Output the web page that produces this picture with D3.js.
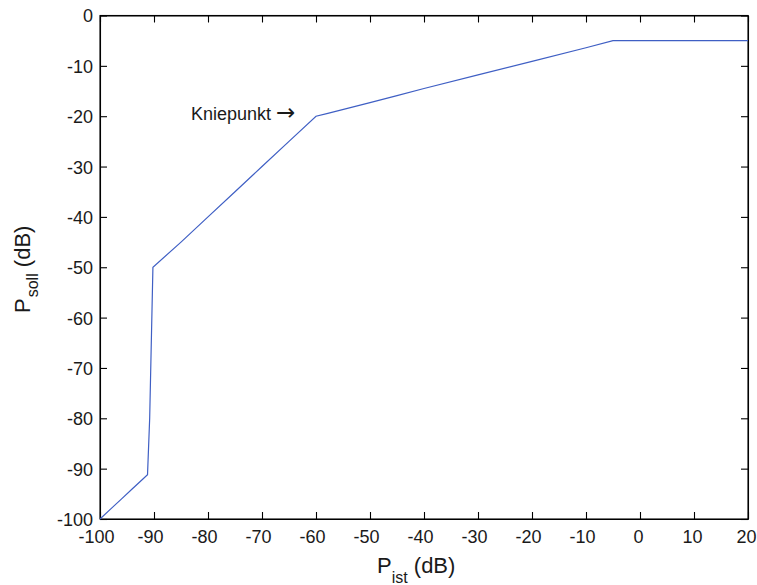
<!DOCTYPE html>
<html>
<head>
<meta charset="utf-8">
<script src="https://cdn.jsdelivr.net/npm/d3@7"></script>
<style>
  html, body { margin: 0; padding: 0; background: #fff; }
  svg { display: block; font-family: "Liberation Sans", Arial, sans-serif; }
</style>
</head>
<body>
<svg id="chart" width="757" height="585"></svg>
<script>
// Data
const pIst  = [-100, -98, -96, -94, -92, -91.2, -90.8, -90.2, -85, -80, -75, -70, -65, -60, -58, -50, -45, -40, -30, -20, -10, -5, 0, 10, 20];
const pSoll = [-100, -98, -96, -94, -92, -91.2, -80,   -50,   -45, -40, -35, -30, -25, -20, -19.5, -17.3, -15.9, -14.5, -11.8, -9.1, -6.4, -5, -5, -5, -5];
const xTicks = [-100, -90, -80, -70, -60, -50, -40, -30, -20, -10, 0, 10, 20];
const yTicks = [0, -10, -20, -30, -40, -50, -60, -70, -80, -90, -100];
const annotationText = "Kniepunkt";
const annotationArrow = "\u2192";

const svg = d3.select("#chart");
const mLeft = 100, mRight = 748, mTop = 15.5, mBottom = 519;
const FONT = "Liberation Sans, Arial, sans-serif";

const x = d3.scaleLinear().domain([-100, 20]).range([mLeft, mRight]);
const y = d3.scaleLinear().domain([-100, 0]).range([mBottom, mTop]);

// Frame
svg.append("rect")
  .attr("x", mLeft).attr("y", mTop)
  .attr("width", mRight - mLeft).attr("height", mBottom - mTop)
  .attr("fill", "#fff").attr("stroke", "#000").attr("stroke-width", 1.1);

const tickLen = 7;
const fmt = d => String(d);
const gx = svg.append("g").attr("transform", `translate(0,${mBottom})`)
  .call(d3.axisBottom(x).tickValues(xTicks).tickSizeInner(-tickLen).tickSizeOuter(0).tickFormat(fmt));
const gxt = svg.append("g").attr("transform", `translate(0,${mTop})`)
  .call(d3.axisTop(x).tickValues(xTicks).tickSizeInner(-tickLen).tickSizeOuter(0).tickFormat(""));
const gy = svg.append("g").attr("transform", `translate(${mLeft},0)`)
  .call(d3.axisLeft(y).tickValues(yTicks).tickSizeInner(-tickLen).tickSizeOuter(0).tickFormat(fmt));
const gyr = svg.append("g").attr("transform", `translate(${mRight},0)`)
  .call(d3.axisRight(y).tickValues(yTicks).tickSizeInner(-tickLen).tickSizeOuter(0).tickFormat(""));

[gx, gxt, gy, gyr].forEach(g => {
  g.select(".domain").attr("stroke", "#000").attr("stroke-width", 1.1);
  g.selectAll(".tick line").attr("stroke", "#000").attr("stroke-width", 1.1);
  g.selectAll("text").attr("font-size", 18).attr("fill", "#1a1a1a").attr("font-family", FONT);
});
gx.selectAll("text").attr("y", 24).attr("dy", 0).attr("dx", d => d < 0 ? -4 : -2);
gy.selectAll("text").attr("x", -7).attr("dy", "0.36em");

// Curve
const line = d3.line().x((d, i) => x(pIst[i])).y((d, i) => y(pSoll[i]));
svg.append("path")
  .datum(pIst)
  .attr("d", line)
  .attr("fill", "none")
  .attr("stroke", "#3f5fc4")
  .attr("stroke-width", 1.2);

// Annotation
const ann = svg.append("text")
  .attr("x", 191).attr("y", 120)
  .attr("font-size", 18).attr("font-family", FONT)
  .attr("fill", "#1a1a1a");
ann.append("tspan").text(annotationText + " ");
ann.append("tspan").attr("font-family", "DejaVu Sans").attr("font-size", 23).attr("dy", 0).text(annotationArrow);

// X label
const xl = svg.append("text")
  .attr("x", 377).attr("y", 573)
  .attr("font-size", 22).attr("fill", "#1a1a1a").attr("font-family", FONT);
xl.append("tspan").text("P");
xl.append("tspan").attr("font-size", 16).attr("dy", 10).text("ist");
xl.append("tspan").attr("dy", -10).text(" (dB)");

// Y label
const yl = svg.append("text")
  .attr("transform", `translate(30,313) rotate(-90)`)
  .attr("font-size", 22).attr("fill", "#1a1a1a").attr("font-family", FONT);
yl.append("tspan").text("P");
yl.append("tspan").attr("font-size", 16).attr("dy", 8).attr("dx", 1).text("soll");
yl.append("tspan").attr("dy", -8).text(" (dB)");
</script>
</body>
</html>
